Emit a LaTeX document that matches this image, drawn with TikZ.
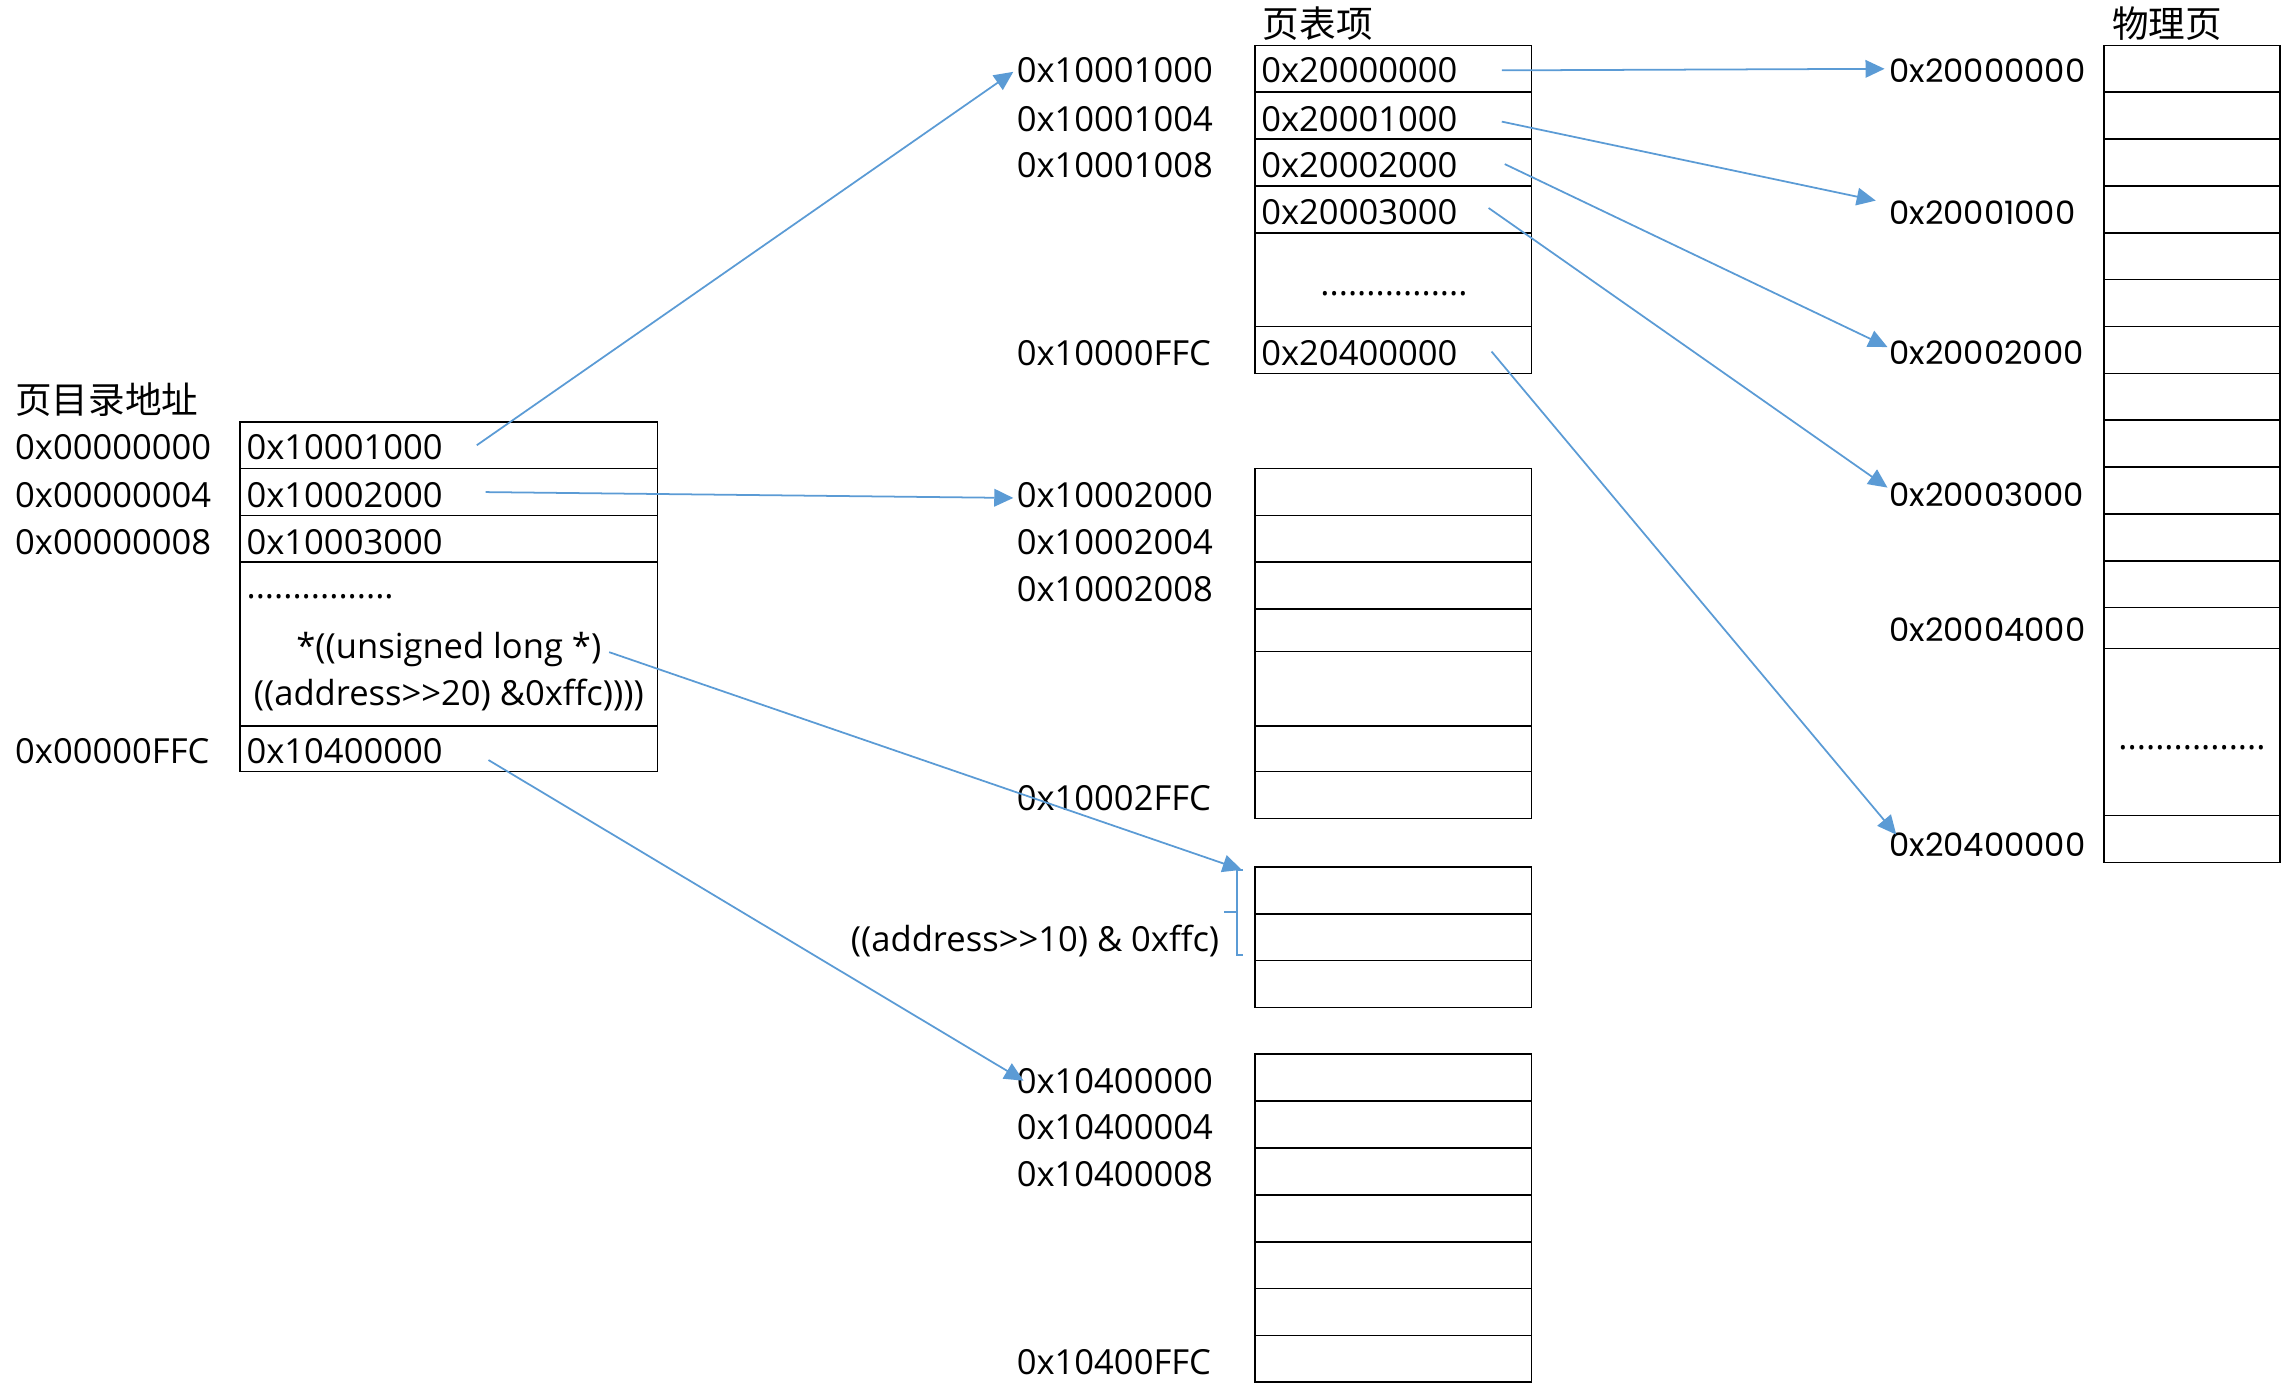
\documentclass[tikz,border=0pt]{standalone}
\usepackage{fontspec}
\setmainfont{Open Sans}
\newfontfamily\cjkfont{Noto Sans CJK SC}
\newfontfamily\physfont{Poppins}
\usetikzlibrary{calc}
\usetikzlibrary{arrows.meta}
\usetikzlibrary{positioning}
\definecolor{ptr-blue}{RGB}{91, 155, 213}

\begin{document}
\begin{tikzpicture}[x=0.5pt, y=-0.5pt,
    addr/.style={anchor=base west, inner sep=0pt, font=\fontsize{11.8}{14}\selectfont},
    title/.style={anchor=base west, inner sep=0pt, font=\cjkfont\fontsize{12.5}{14}\selectfont},
    phys/.style={anchor=west, inner sep=0pt, font=\physfont\fontsize{11}{13}\selectfont},
    dots/.style={anchor=base, inner sep=0pt, font=\fontsize{11.8}{14}\selectfont},
    ptr/.style={draw=ptr-blue, line width=0.6pt, -{Triangle[length=6.5pt, width=6pt]}},
    box/.style={draw=black, line width=0.55pt}]
\useasboundingbox (0,0) rectangle (1568,952);

% page directory
\draw[box] (164,288) rectangle (449,527);
\foreach \y in {320,352,384,496} \draw[box] (164,\y) -- (449,\y);
\node[title] (pd-title) at (10,282.5) {页目录地址};
\node[addr] (pd-a0) at (10,313.5) {0x00000000};
\node[addr] (pd-a1) at (10,346.5) {0x00000004};
\node[addr] (pd-a2) at (10,378.5) {0x00000008};
\node[addr] (pd-al) at (10,521.5) {0x00000FFC};
\node[addr] (pd0) at (168,313.5) {0x10001000};
\node[addr] (pd1) at (168,346.5) {0x10002000};
\node[addr] (pd2) at (168,378.5) {0x10003000};
\node[addr] (pd-dots) at (168,409) {................};
\node[dots] (ul) at (306.5,449.5) {*((unsigned long *)};
\node[dots] (ul2) at (306.5,481.5) {((address>{}>20) \&0xffc))))};
\node[addr] (pdl) at (168,521.5) {0x10400000};

% page table entries
\node[title] (pt-title) at (862,25.5) {页表项};
\draw[box] (857,31) rectangle (1046,255);
\foreach \y in {63,95,127,159,223} \draw[box] (857,\y) -- (1046,\y);
\node[addr] (ta0) at (694,56.5) {0x10001000};
\node[addr] (ta1) at (694,89.5) {0x10001004};
\node[addr] (ta2) at (694,121.5) {0x10001008};
\node[addr] (tal) at (694,249.5) {0x10000FFC};
\node[addr] (pt0) at (861,56.5) {0x20000000};
\node[addr] (pt1) at (861,89.5) {0x20001000};
\node[addr] (pt2) at (861,121.5) {0x20002000};
\node[addr] (pt3) at (861,153.5) {0x20003000};
\node[dots] (pt-dots) at (952,202) {................};
\node[addr] (ptl) at (861,249.5) {0x20400000};

\draw[box] (857,320) rectangle (1046,559);
\foreach \y in {352,384,416,445,496,527} \draw[box] (857,\y) -- (1046,\y);
\node[addr] (tb0) at (694,346.5) {0x10002000};
\node[addr] (tb1) at (694,378.5) {0x10002004};
\node[addr] (tb2) at (694,410.5) {0x10002008};
\node[addr] (tbl) at (694,553.5) {0x10002FFC};

\draw[box] (857,592) rectangle (1046,688);
\foreach \y in {624,656} \draw[box] (857,\y) -- (1046,\y);
\node[addr, anchor=base east] (offset) at (833,649.5) {((address>{}>10) \& 0xffc)};
\coordinate (brace-top) at (848,594);
\draw[ptr-blue, line width=0.6pt] (849,594) -- (845,594) -- (845,652) -- (849,652);
\draw[ptr-blue, line width=0.6pt] (845,623) -- (836,623);

\draw[box] (857,720) rectangle (1046,944);
\foreach \y in {752,784,816,848,880,912} \draw[box] (857,\y) -- (1046,\y);
\node[addr] (td0) at (694,746.5) {0x10400000};
\node[addr] (td1) at (694,778.5) {0x10400004};
\node[addr] (td2) at (694,810.5) {0x10400008};
\node[addr] (tdl) at (694,938.5) {0x10400FFC};

% physical pages
\node[title] (pa-title) at (1442,25.5) {物理页};
\draw[box] (1437,31) rectangle (1557,589);
\foreach \y in {63,95,...,415} \draw[box] (1437,\y) -- (1557,\y);
\foreach \y in {443,557} \draw[box] (1437,\y) -- (1557,\y);
\node[dots] (pa-dots) at (1497,512) {................};
\node[phys] (pa0) at (1290,48) {0x20000000};
\node[phys] (pa1) at (1290,145) {0x20001000};
\node[phys] (pa2) at (1290,241) {0x20002000};
\node[phys] (pa3) at (1290,338) {0x20003000};
\node[phys] (pa4) at (1290,430) {0x20004000};
\node[phys] (pa5) at (1290,577) {0x20400000};

% pointers
\draw[ptr] ($(pd0.east)+(23,-1)$) -- ($(ta0.west)+(-2,1)$);
\draw[ptr] ($(pd1.east)+(29,-2)$) -- ($(tb0.west)+(-2,2)$);
\draw[ptr] ($(ul.east)+(5,2)$) -- (brace-top);
\draw[ptr] ($(pdl.east)+(31,6)$) -- ($(td0.west)+(5,0)$);
\draw[ptr] ($(pt0.east)+(30,0)$) -- ($(pa0.west)+(-3,-1)$);
\draw[ptr] ($(pt1.east)+(30,2)$) -- ($(pa1.west)+(-9,-8)$);
\draw[ptr] ($(pt2.east)+(32,-1)$) -- ($(pa2.west)+(-1,-4)$);
\draw[ptr] ($(pt3.east)+(21,-3)$) -- ($(pa3.west)+(-1,-5)$);
\draw[ptr] ($(ptl.east)+(23,-1)$) -- ($(pa5.west)+(5,-7)$);
\end{tikzpicture}
\end{document}
